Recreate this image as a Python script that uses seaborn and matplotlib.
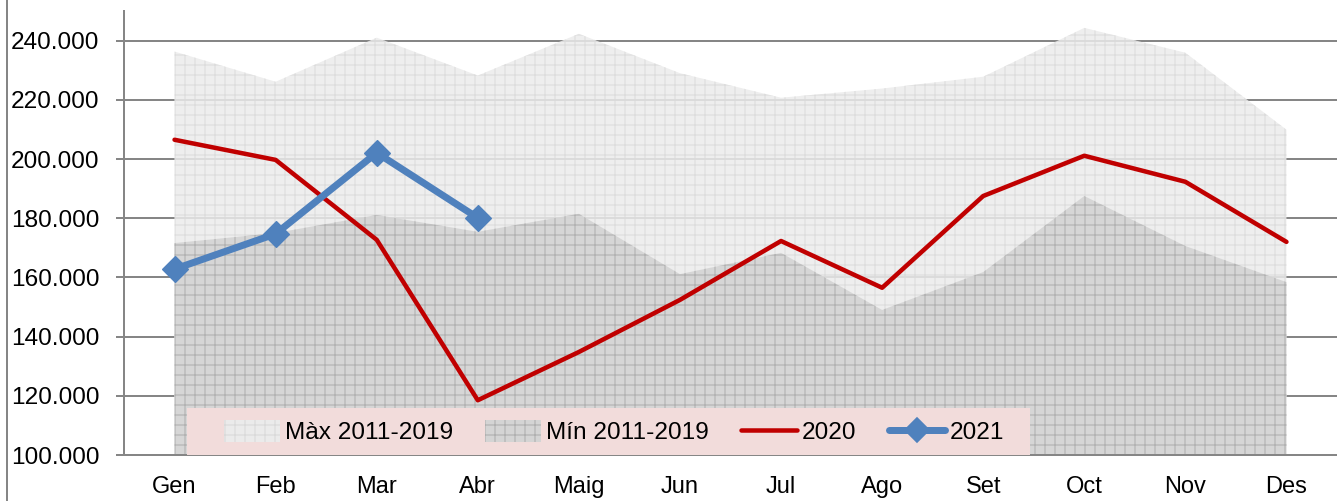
import numpy as np
import pandas as pd
import matplotlib
matplotlib.use("Agg")
import matplotlib.pyplot as plt
import seaborn as sns
from matplotlib.patches import Patch, Rectangle
from matplotlib.lines import Line2D

months = ["Gen", "Feb", "Mar", "Abr", "Maig", "Jun", "Jul", "Ago", "Set", "Oct", "Nov", "Des"]
max_2011_2019 = [236300, 226100, 241000, 228200, 242300, 229000, 220700, 223800, 227800, 244300, 235900, 209900]
min_2011_2019 = [171600, 175000, 181100, 175400, 181500, 161100, 168300, 149000, 161800, 187500, 170600, 158400]
y2020 = [206500, 199700, 172700, 118500, 134800, 152400, 172300, 156500, 187500, 201100, 192300, 172000]
y2021 = [162800, 174700, 202100, 180100]
yticks = [100000, 120000, 140000, 160000, 180000, 200000, 220000, 240000]

sns.set_style("white")
plt.rcParams['font.family'] = ['Liberation Sans', 'DejaVu Sans']
plt.rcParams['hatch.linewidth'] = 0.7

DPI = 120
W, H = 1337, 501
fig = plt.figure(figsize=(W / DPI, H / DPI), dpi=DPI)
AX_L, AX_T, AX_B = 124, 11, 455
ax = fig.add_axes([AX_L / W, 1 - AX_B / H, (W - AX_L) / W, (AX_B - AX_T) / H])
AW, AH = W - AX_L, AX_B - AX_T

x = np.arange(len(months))
grid_c = "#868686"
max_fc, max_hc = "#ebebeb", "#dadada"
min_fc, min_hc = "#d4d4d4", "#b0b0b0"

# areas
ax.fill_between(x, 100000, max_2011_2019, facecolor=max_fc, edgecolor=max_hc,
                hatch="++", linewidth=0, alpha=0.85, zorder=1)
ax.fill_between(x, 100000, min_2011_2019, facecolor=min_fc, edgecolor=min_hc,
                hatch="++", linewidth=0, alpha=0.9, zorder=1.1)

df20 = pd.DataFrame({"m": x, "v": y2020})
df21 = pd.DataFrame({"m": x[:len(y2021)], "v": y2021})
sns.lineplot(data=df20, x="m", y="v", color="#c00000", linewidth=2.7, ax=ax, zorder=3)
sns.lineplot(data=df21, x="m", y="v", color="#4f81bd", linewidth=4.2, marker="D",
             markersize=11, markeredgecolor="#4f81bd", ax=ax, zorder=4)

ax.set_xlim(-0.5, -0.5 + AW / 101.8)
ax.set_ylim(100000, 250000)
ax.set_xlabel("")
ax.set_ylabel("")

ax.set_yticks(yticks)
ax.set_yticklabels([f"{v:,}".replace(",", ".") for v in yticks])
ax.set_xticks(x)
ax.set_xticklabels(months)
ax.set_xticks(np.arange(-0.5, 12, 1), minor=True)
ax.tick_params(axis="x", which="major", length=0, pad=12.5, labelsize=14.2, labelcolor="black")
ax.tick_params(axis="x", which="minor", length=4.8, width=1.2, color=grid_c, direction="out")
ax.tick_params(axis="y", which="major", length=4.8, width=1.2, color=grid_c, direction="out",
               pad=10, labelsize=14.6, left=True, labelcolor="black")

ax.yaxis.grid(True, color=grid_c, linewidth=1.2, zorder=0)
ax.set_axisbelow(True)
for s in ["top", "right"]:
    ax.spines[s].set_visible(False)
for s in ["left", "bottom"]:
    ax.spines[s].set_color(grid_c)
    ax.spines[s].set_linewidth(1.2)

# outer border line at the left
fig.add_artist(Line2D([7 / W, 7 / W], [0, 1], color=grid_c, linewidth=1.2, transform=fig.transFigure))

# legend background box
ax.add_patch(Rectangle(((187 - AX_L) / AW, 0), 843 / AW, 47 / AH, transform=ax.transAxes,
                       facecolor="#f2dcdb", edgecolor="none", zorder=4.8, clip_on=False))

handles = [
    Patch(facecolor=max_fc, edgecolor=max_hc, hatch="++", linewidth=0),
    Patch(facecolor=min_fc, edgecolor=min_hc, hatch="++", linewidth=0),
    Line2D([], [], color="#c00000", linewidth=2.7),
    Line2D([], [], color="#4f81bd", linewidth=4.2, marker="D", markersize=10),
]
labels = ["Màx 2011-2019", "Mín 2011-2019", "2020", "2021"]
if ax.get_legend():
    ax.get_legend().remove()
leg = ax.legend(handles, labels, loc="center",
                bbox_to_anchor=((224 - AX_L) / AW, 0, 780 / AW, 46 / AH),
                mode="expand", ncol=4, frameon=False, borderaxespad=0, borderpad=0,
                fontsize=14.6, handlelength=2.3, handleheight=1.0,
                handletextpad=0.2, columnspacing=1.0)
for t in leg.get_texts():
    t.set_color("black")
leg.set_zorder(5)

fig.savefig("out.png", dpi=DPI)
